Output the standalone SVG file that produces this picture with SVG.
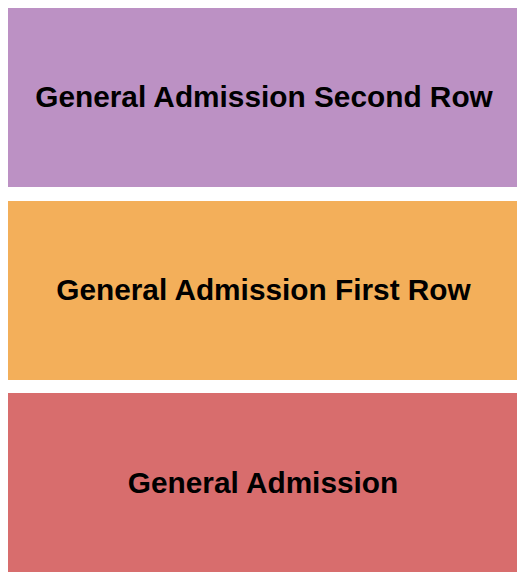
<svg xmlns="http://www.w3.org/2000/svg" width="525" height="580" viewBox="0 0 525 580">
<style>
.lbl{font-family:"Liberation Sans",Arial,sans-serif;font-weight:bold;font-size:29.8px;fill:#000;text-anchor:middle}
</style>
<rect width="525" height="580" fill="#fff"/>
<g id="ga-second-row">
<rect x="8" y="8" width="509" height="179" fill="#BC91C4"/>
<text class="lbl" x="264" y="107">General Admission Second Row</text>
</g>
<g id="ga-first-row">
<rect x="8" y="201" width="509" height="179" fill="#F3AF5A"/>
<text class="lbl" x="263.5" y="300">General Admission First Row</text>
</g>
<g id="ga">
<rect x="8" y="393" width="509" height="179" fill="#D86D6D"/>
<text class="lbl" x="263" y="492.5">General Admission</text>
</g>
<g id="connectors"/>
</svg>
